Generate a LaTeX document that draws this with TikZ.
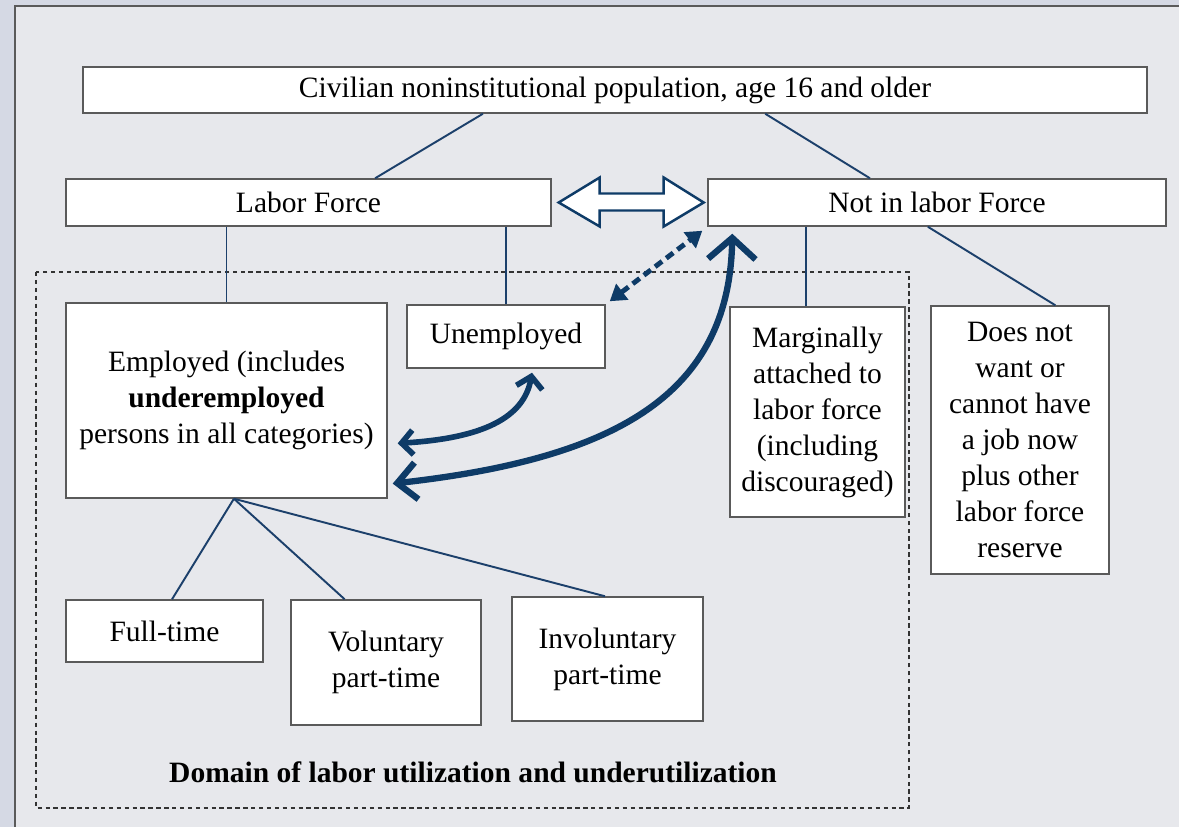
\documentclass[tikz,border=0pt]{standalone}
\usepackage{fontspec}
\setmainfont{Liberation Serif}
\usetikzlibrary{arrows.meta,calc}

\definecolor{navy}{HTML}{0E3B67}
\definecolor{linknavy}{HTML}{1C406B}
\definecolor{outerbg}{HTML}{D5D9E4}
\definecolor{innerbg}{HTML}{E7E8EC}
\definecolor{boxgray}{HTML}{5A5A5A}

\tikzset{
  box/.style={draw=boxgray, line width=0.85pt, fill=white, align=center,
    inner sep=1pt, font=\fontsize{16.8}{20.5}\selectfont},
  link/.style={draw=linknavy, line width=1.1pt},
  flowarrow/.style={draw=navy, line width=3.6pt,
    {Straight Barb[length=11pt,width=21pt]}-{Straight Barb[length=12pt,width=27pt]}},
  smallflow/.style={draw=navy, line width=3.2pt,
    {Straight Barb[length=6.5pt,width=14pt]}-{Straight Barb[length=6.5pt,width=15pt]}},
  dasharrow/.style={draw=navy, line width=2.8pt, dash pattern=on 5pt off 3pt,
    {Triangle[length=9pt,width=11pt]}-{Triangle[length=9pt,width=11pt]}}
}

\begin{document}
\begin{tikzpicture}[x=0.02cm,y=-0.02cm]
    \useasboundingbox (0,0) rectangle (1179,827);
    % page background
    \fill[outerbg] (0,0) rectangle (1179,827);
    \fill[innerbg] (15,6) rectangle (1179,827);
    \draw[boxgray, line width=1pt] (15,827) -- (15,6) -- (1179,6);

    % domain frame
    \draw[black!80, line width=0.6pt, dash pattern=on 2.5pt off 2pt] (36,272) rectangle (909,808);

    \node[box, minimum width=21.28cm, minimum height=0.92cm] (pop) at (615,90)
        {Civilian noninstitutional population, age 16 and older};
    \node[box, minimum width=9.7cm, minimum height=0.94cm] (lf) at (308.5,202.5) {Labor Force};
    \node[box, minimum width=9.16cm, minimum height=0.94cm] (nlf) at (937,202.5) {Not in labor Force};
    \node[box, minimum width=6.42cm, minimum height=3.9cm] (emp) at (226.5,400.5)
        {Employed (includes\\\textbf{underemployed}\\persons in all categories)};
    \node[box, minimum width=3.96cm, minimum height=1.26cm] (unemp) at (506,336.5) {Unemployed};
    \node[box, minimum width=3.5cm, minimum height=4.2cm] (marg) at (817.5,412)
        {Marginally\\attached to\\labor force\\(including\\discouraged)};
    \node[box, minimum width=3.56cm, minimum height=5.36cm] (notwant) at (1020,440)
        {Does not\\want or\\cannot have\\a job now\\plus other\\labor force\\reserve};
    \node[box, minimum width=3.94cm, minimum height=1.24cm] (full) at (164.5,631) {Full-time};
    \node[box, minimum width=3.8cm, minimum height=2.5cm] (vol) at (386,662.5) {Voluntary\\part-time};
    \node[box, minimum width=3.82cm, minimum height=2.48cm] (invol) at (607.5,659) {Involuntary\\part-time};
    \node[font=\fontsize{16.8}{20}\selectfont\bfseries] (domain) at (473,772)
        {Domain of labor utilization and underutilization};

    % tree links
    \draw[link] ($(pop.south west)!0.376!(pop.south east)$) -- ($(lf.north west)!0.637!(lf.north east)$);
    \draw[link] ($(pop.south west)!0.641!(pop.south east)$) -- ($(nlf.north west)!0.354!(nlf.north east)$);
    \draw[link] (emp.north) -- (emp.north |- lf.south);
    \draw[link] (unemp.north) -- (unemp.north |- lf.south);
    \draw[link] ($(marg.north west)!0.434!(marg.north east)$) coordinate (m) -- (m |- nlf.south);
    \draw[link] ($(nlf.south west)!0.48!(nlf.south east)$) -- ($(notwant.north west)!0.697!(notwant.north east)$);
    \coordinate (empfoot) at ($(emp.south west)!0.523!(emp.south east)$);
    \draw[link] (empfoot) -- ($(full.north west)!0.538!(full.north east)$);
    \draw[link] (empfoot) -- ($(vol.north west)!0.284!(vol.north east)$);
    \draw[link] (empfoot) -- ($(invol.north west)!0.487!(invol.north east)$);

    % hollow two-way arrow between labor force and not in labor force
    \draw[navy, line width=1.4pt, fill=white, line join=miter]
        ($(lf.east)+(7,0)$) -- ++(41,-25) -- ++(0,16) -- ++(64,0) -- ++(0,-16)
        -- ++(40,25) -- ++(-40,24) -- ++(0,-16) -- ++(-64,0) -- ++(0,16) -- cycle;

    % flows
    \draw[dasharrow] ($(unemp.north east)+(4,-3)$) -- ($(nlf.south west)+(-5,4)$);
    \draw[smallflow] ($(emp.north east)!0.718!(emp.south east)+(10,0)$)
        .. controls +(85,-5) and +(-8,45) .. ($(unemp.south)+(26,4)$);
    \draw[flowarrow] ($(emp.north east)!0.923!(emp.south east)+(5,0)$)
        .. controls +(225,-25) and +(-3,160) .. ($(nlf.south west)+(25,7)$);
\end{tikzpicture}
\end{document}
